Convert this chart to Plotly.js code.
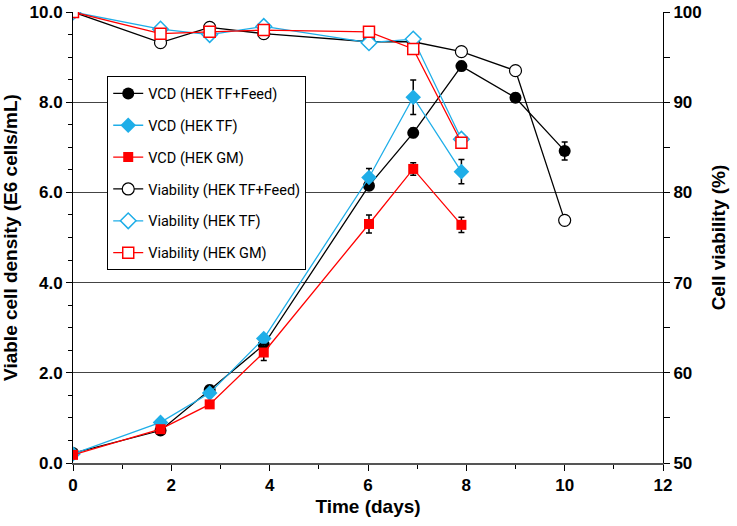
<!DOCTYPE html>
<html>
<head>
<meta charset="utf-8">
<script src="https://cdn.plot.ly/plotly-3.0.1.min.js"></script>
<style>html,body{margin:0;padding:0;background:#fff;}</style>
</head>
<body>
<div id="chart" style="width:737px;height:526px;"></div>
<script>
// Time points (days)
const daysFeed = [0, 1.78, 2.78, 3.88, 6.02, 6.92, 7.9, 9.0, 10.0];
const daysTF   = [0, 1.78, 2.78, 3.88, 6.02, 6.92, 7.9];
const daysGM   = [0, 1.78, 2.78, 3.88, 6.02, 6.92, 7.9];

// Viable cell density (E6 cells/mL)
const vcdFeed    = [0.22, 0.72, 1.62, 2.62, 6.15, 7.32, 8.80, 8.10, 6.92];
const vcdFeedErr = [0.05, 0.05, 0.10, 0.10, 0.10, 0.10, 0.10, 0.10, 0.20];
const vcdTF      = [0.20, 0.90, 1.55, 2.76, 6.33, 8.11, 6.46];
const vcdTFErr   = [0.05, 0.05, 0.05, 0.08, 0.20, 0.38, 0.27];
const vcdGM      = [0.18, 0.75, 1.30, 2.45, 5.30, 6.52, 5.28];
const vcdGMErr   = [0.05, 0.05, 0.05, 0.18, 0.20, 0.14, 0.17];

// Cell viability (%)
const viaFeed = [100, 96.6, 98.3, 97.6, 96.7, 96.7, 95.6, 93.5, 76.9];
const viaTF   = [100, 98.1, 97.5, 98.4, 96.6, 97.0, 85.9];
const viaGM   = [100, 97.6, 97.8, 98.0, 97.8, 95.9, 85.5];

const names = ['VCD (HEK TF+Feed)', 'VCD (HEK TF)', 'VCD (HEK GM)',
               'Viability (HEK TF+Feed)', 'Viability (HEK TF)', 'Viability (HEK GM)'];

const BLACK = '#000000', CYAN = '#1FAEE8', RED = '#FF0000';
const errStyle = (arr) => ({type: 'data', array: arr, visible: true, color: '#000', thickness: 1.5, width: 3});

const traces = [
  {x: daysFeed, y: vcdFeed, error_y: errStyle(vcdFeedErr), name: names[0], legendgroup: 'a',
   mode: 'lines+markers', line: {color: BLACK, width: 1.3},
   marker: {symbol: 'circle', size: 12, color: BLACK}},
  {x: daysTF, y: vcdTF, error_y: errStyle(vcdTFErr), name: names[1], legendgroup: 'b',
   mode: 'lines+markers', line: {color: CYAN, width: 1.3},
   marker: {symbol: 'diamond', size: 12, color: CYAN}},
  {x: daysGM, y: vcdGM, error_y: errStyle(vcdGMErr), name: names[2], legendgroup: 'c',
   mode: 'lines+markers', line: {color: RED, width: 1.3},
   marker: {symbol: 'square', size: 10, color: RED}},
  {x: daysFeed, y: viaFeed, yaxis: 'y2', name: names[3], legendgroup: 'd',
   mode: 'lines+markers', line: {color: BLACK, width: 1.3},
   marker: {symbol: 'circle', size: 12, color: '#fff', line: {color: BLACK, width: 1.2}}},
  {x: daysTF, y: viaTF, yaxis: 'y2', name: names[4], legendgroup: 'e',
   mode: 'lines+markers', line: {color: CYAN, width: 1.3},
   marker: {symbol: 'diamond', size: 12, color: '#fff', line: {color: CYAN, width: 1.5}}},
  {x: daysGM, y: viaGM, yaxis: 'y2', name: names[5], legendgroup: 'f',
   mode: 'lines+markers', line: {color: RED, width: 1.3},
   marker: {symbol: 'square', size: 11, color: '#fff', line: {color: RED, width: 1.5}}}
];

const tickFont = {family: 'Liberation Sans, Arial, sans-serif', size: 17, color: '#000', weight: 'bold'};
const titleFont = {family: 'Liberation Sans, Arial, sans-serif', size: 19, color: '#000', weight: 'bold'};

const layout = {
  width: 737, height: 526,
  margin: {l: 73, r: 74, t: 12, b: 63},
  paper_bgcolor: '#fff', plot_bgcolor: '#fff',
  showlegend: true,
  legend: {
    x: 0.058, y: 0.857, xanchor: 'left', yanchor: 'top',
    bgcolor: '#fff', bordercolor: '#000', borderwidth: 1,
    font: {family: 'Roboto, Liberation Sans, sans-serif', size: 14.5, color: '#000'},
    tracegroupgap: 10, traceorder: 'grouped', itemwidth: 30
  },
  xaxis: {
    range: [0, 12], dtick: 2, tick0: 0,
    showgrid: false, zeroline: false,
    showline: true, linecolor: '#555', linewidth: 1.5,
    ticks: 'outside', ticklen: 6, tickcolor: '#000', tickwidth: 1,
    minor: {dtick: 1, ticks: 'outside', ticklen: 4, tickcolor: '#000'},
    tickfont: tickFont,
    title: {text: 'Time (days)', font: titleFont, standoff: 6}
  },
  yaxis: {
    range: [0, 10], dtick: 2, tick0: 0, tickformat: '.1f',
    showgrid: true, gridcolor: '#444', gridwidth: 1,
    zeroline: false,
    showline: true, linecolor: '#000', linewidth: 1,
    ticks: 'outside', ticklen: 6, tickcolor: '#000',
    minor: {dtick: 0.5, ticks: 'outside', ticklen: 4, tickcolor: '#000', showgrid: false},
    tickfont: tickFont,
    title: {text: 'Viable cell density (E6 cells/mL)', font: titleFont, standoff: 8}
  },
  yaxis2: {
    overlaying: 'y', side: 'right',
    range: [50, 100], dtick: 10, tick0: 50,
    showgrid: false, zeroline: false,
    showline: true, linecolor: '#000', linewidth: 1,
    ticks: 'outside', ticklen: 6, tickcolor: '#000',
    minor: {dtick: 5, ticks: 'outside', ticklen: 6, tickcolor: '#000', showgrid: false},
    tickfont: tickFont,
    title: {text: 'Cell viability (%)', font: titleFont, standoff: 10}
  }
};

Plotly.newPlot('chart', traces, layout, {displayModeBar: false, staticPlot: true});
</script>
</body>
</html>
